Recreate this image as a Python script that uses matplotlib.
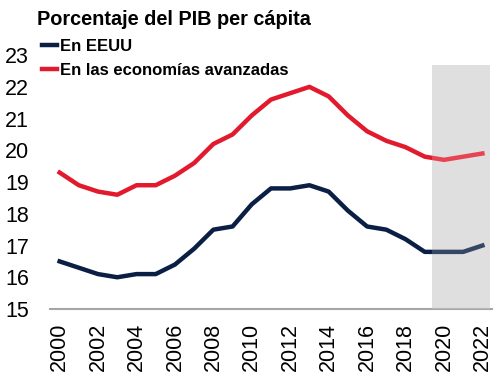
import matplotlib
matplotlib.use("Agg")
import matplotlib.pyplot as plt

plt.rcParams['font.family'] = ['Liberation Sans', 'DejaVu Sans']

years = list(range(2000, 2023))
eeuu = [16.5, 16.3, 16.1, 16.0, 16.1, 16.1, 16.4, 16.9, 17.5, 17.6, 18.3, 18.8,
        18.8, 18.9, 18.7, 18.1, 17.6, 17.5, 17.2, 16.8, 16.8, 16.8, 17.0]
avanzadas = [19.3, 18.9, 18.7, 18.6, 18.9, 18.9, 19.2, 19.6, 20.2, 20.5, 21.1, 21.6,
             21.8, 22.0, 21.7, 21.1, 20.6, 20.3, 20.1, 19.8, 19.7, 19.8, 19.9]
series_labels = ["En EEUU", "En las economías avanzadas"]
yticks = [15, 16, 17, 18, 19, 20, 21, 22, 23]
xticks = list(range(2000, 2023, 2))
title = "Porcentaje del PIB per cápita"

navy = "#0b1f44"
red = "#e21a2e"

fig = plt.figure(figsize=(5, 3.75), dpi=100)
ax = fig.add_axes([0.1, 0.176, 0.884, 0.677])

ax.fill_between([2019.4, 2022.4], 15, 22.7, color="#d8d8d8", lw=0, zorder=0)
l1, = ax.plot(years, eeuu, color=navy, lw=3.2, zorder=2, solid_joinstyle='round')
l2, = ax.plot(years, avanzadas, color=red, lw=3.2, zorder=2, solid_joinstyle='round')
ax.fill_between([2019.4, 2022.4], 15, 22.7, color="white", alpha=0.18, lw=0, zorder=3)

ax.set_xlim(1999.5, 2022.5)
ax.set_ylim(15, 23)
ax.set_yticks(yticks)
ax.set_xticks(xticks)
ax.set_xticklabels([str(x) for x in xticks], rotation=90)
ax.tick_params(axis='both', length=0, labelsize=15.5)
ax.tick_params(axis='y', pad=15)
ax.tick_params(axis='x', pad=10)
for s in ['top', 'right', 'left']:
    ax.spines[s].set_visible(False)
ax.spines['bottom'].set_color('#a6a6a6')
ax.spines['bottom'].set_linewidth(1.5)

fig.text(0.074, 0.948, title, fontsize=14.3, fontweight='bold', va='center', ha='left')

leg = ax.legend([l1, l2], series_labels, loc='upper left', bbox_to_anchor=(0.084, 0.897),
                bbox_transform=fig.transFigure, frameon=False, handlelength=0.9,
                handletextpad=0.2, labelspacing=0.55, borderpad=0, borderaxespad=0,
                prop={'size': 12.0, 'weight': 'bold'})

fig.savefig("out.png", dpi=100)
